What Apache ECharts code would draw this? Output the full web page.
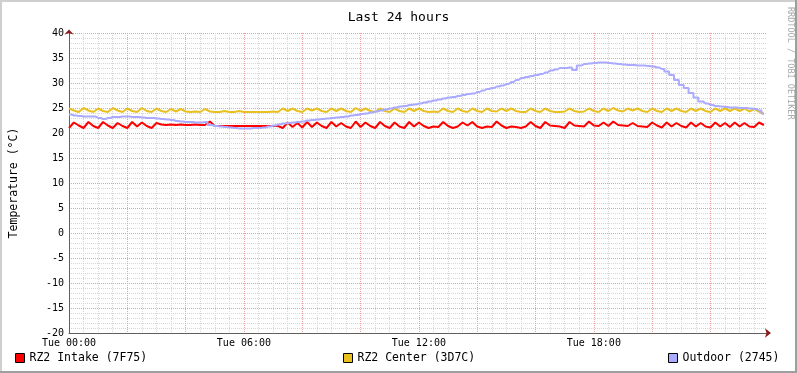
<!DOCTYPE html>
<html><head><meta charset="utf-8">
<script src="https://cdn.jsdelivr.net/npm/echarts@6/dist/echarts.min.js"></script>
<style>html,body{margin:0;padding:0;background:#fff}#c{width:797px;height:373px}</style>
</head><body><div id="c"></div>
<script>
const titleText = 'Last 24 hours';
const yAxisTitle = 'Temperature (°C)';
const watermark = 'RRDTOOL / TOBI OETIKER';
const seriesNames = ['RZ2 Intake (7F75)', 'RZ2 Center (3D7C)', 'Outdoor (2745)'];
const sampleStepHours = 1 / 6; // one reading every 10 minutes, from Tue 00:00
const xTickHours = [0, 6, 12, 18];
const xTickLabels = ['Tue 00:00', 'Tue 06:00', 'Tue 12:00', 'Tue 18:00'];
const yTickValues = [-20, -15, -10, -5, 0, 5, 10, 15, 20, 25, 30, 35, 40];

const intake = [
21.0,22.1,21.5,21.0,22.2,21.4,21.0,22.2,21.5,21.0,
22.0,21.4,21.0,22.2,21.3,22.1,21.4,21.0,22.0,21.7,
21.6,21.7,21.6,21.7,21.6,21.6,21.7,21.6,21.6,22.3,
21.4,21.4,21.4,21.4,21.4,21.4,21.4,21.4,21.4,21.4,
21.4,21.4,21.4,21.4,21.0,22.1,21.2,22.0,21.1,22.2,
21.2,22.1,21.4,21.0,22.2,21.3,22.0,21.3,21.0,22.3,
21.2,22.1,21.4,21.0,22.2,21.4,21.0,22.1,21.3,21.0,
22.2,21.3,22.1,21.4,21.0,21.3,21.2,22.2,21.4,21.0,
21.3,22.1,21.5,22.2,21.3,21.0,21.3,21.2,22.3,21.5,
21.0,21.3,21.2,21.0,21.3,22.2,21.4,21.0,22.2,21.5,
21.4,21.3,21.0,22.2,21.5,21.4,21.3,22.3,21.5,21.4,
22.1,21.4,22.3,21.6,21.5,21.4,22.0,21.4,21.3,21.2,
22.1,21.5,21.1,22.1,21.3,22.0,21.4,21.1,22.1,21.3,
22.0,21.3,21.1,22.1,21.3,22.0,21.2,22.1,21.3,22.0,
21.3,21.2,22.1,21.6];

const center = [
24.9,24.5,24.2,25.0,24.5,24.2,24.9,24.4,24.2,25.0,
24.5,24.2,24.9,24.4,24.2,25.0,24.4,24.2,24.9,24.4,
24.2,24.8,24.3,24.8,24.3,24.2,24.3,24.2,24.8,24.3,
24.2,24.2,24.4,24.2,24.2,24.4,24.2,24.2,24.2,24.2,
24.2,24.2,24.3,24.2,24.9,24.4,24.9,24.4,24.2,24.9,
24.5,24.9,24.4,24.2,24.9,24.4,24.9,24.4,24.2,25.0,
24.4,24.9,24.4,24.2,24.9,24.4,24.2,24.9,24.4,24.2,
24.9,24.4,24.9,24.4,24.2,24.3,24.2,24.9,24.4,24.2,
24.9,24.4,24.2,24.9,24.4,24.2,24.9,24.4,24.3,24.9,
24.4,24.9,24.4,24.2,24.2,24.9,24.4,24.2,24.9,24.4,
24.2,24.2,24.3,24.9,24.4,24.2,24.3,24.9,24.4,24.2,
24.9,24.4,25.0,24.5,24.3,24.9,24.5,24.9,24.4,24.2,
24.9,24.4,24.2,24.9,24.4,24.9,24.4,24.2,24.9,24.4,
24.9,24.4,24.2,24.9,24.4,24.9,24.4,24.9,24.4,24.9,
24.3,24.8,24.3,23.8];

const outdoor = [
23.7,23.5,23.4,23.3,23.3,23.3,23.0,22.8,23.0,23.2,
23.2,23.3,23.3,23.2,23.2,23.1,23.0,23.0,22.9,22.8,
22.7,22.6,22.4,22.3,22.2,22.2,22.1,22.1,22.2,21.6,
21.4,21.3,21.2,21.1,21.0,20.9,20.9,20.9,21.0,21.0,
21.1,21.3,21.5,21.7,21.9,22.0,22.1,22.2,22.3,22.5,
22.6,22.7,22.8,22.9,23.0,23.1,23.2,23.3,23.5,23.6,
23.8,23.9,24.1,24.3,24.5,24.7,24.9,25.1,25.3,25.4,
25.6,25.7,25.9,26.1,26.3,26.5,26.7,26.9,27.1,27.2,
27.4,27.6,27.8,27.9,28.2,28.5,28.8,29.0,29.3,29.5,
29.8,30.2,30.6,31.0,31.2,31.4,31.6,31.8,32.1,32.5,
32.7,33.0,33.0,33.1,32.6,33.5,33.8,33.9,34.0,34.1,
34.1,34.0,33.9,33.8,33.7,33.6,33.6,33.5,33.5,33.4,
33.3,33.1,32.8,32.3,31.6,30.6,29.6,29.0,28.0,27.1,
26.3,25.9,25.6,25.4,25.3,25.2,25.1,25.1,25.0,25.0,
24.9,24.8,24.5,23.9];

const colors = ['#ff0000', '#e8c020', '#aaaaff'];
const stepModes = [false, false, 'middle'];
const font = 'DejaVu Sans Mono';
const xMax = 23.94;

const toPairs = arr => arr.map((v, i) => [i * sampleStepHours, v]);
const chart = echarts.init(document.getElementById('c'), null, {renderer: 'canvas'});

const majorGrid = {color: '#e9a0a0', type: [1, 1], width: 1};
const minorGrid = {color: '#d6d6d6', type: [1, 1], width: 1};
const legendCommon = {
  icon: 'rect', itemWidth: 9, itemHeight: 9, padding: 0, itemGap: 0,
  selectedMode: false, top: 352,
  itemStyle: {borderColor: '#000', borderWidth: 1},
  textStyle: {fontFamily: font, fontSize: 11.5, color: '#000', lineHeight: 12}
};

chart.setOption({
  animation: false,
  backgroundColor: '#ffffff',
  title: {text: titleText, left: 'center', top: 6,
    textStyle: {fontFamily: font, fontSize: 13, fontWeight: 'normal', color: '#000'}},
  grid: {left: 67, right: 30, top: 33, bottom: 40},
  legend: [
    Object.assign({data: [seriesNames[0]], left: 15}, legendCommon),
    Object.assign({data: [seriesNames[1]], left: 343}, legendCommon),
    Object.assign({data: [seriesNames[2]], left: 668}, legendCommon)
  ],
  xAxis: [
    {type: 'value', min: 0, max: xMax, interval: 2, position: 'bottom',
     axisLine: {show: true, onZero: false, lineStyle: {color: '#606060', width: 1}},
     axisTick: {show: false},
     axisLabel: {fontFamily: font, fontSize: 10, color: '#000', margin: 5, showMaxLabel: false,
       formatter: v => { const k = xTickHours.indexOf(Math.round(v)); return (k >= 0 && Math.abs(v - Math.round(v)) < 1e-6) ? xTickLabels[k] : ''; }},
     splitLine: {show: true, showMinLine: false, showMaxLine: false, lineStyle: majorGrid},
     minorTick: {show: false, splitNumber: 4},
     minorSplitLine: {show: true, lineStyle: minorGrid}},
    {type: 'value', min: 0, max: xMax, position: 'bottom',
     axisLine: {show: true, onZero: false, symbol: ['none', 'arrow'], symbolSize: [7, 6], symbolOffset: [0, 4],
       lineStyle: {color: '#8b1a1a', width: 0}},
     axisTick: {show: false}, axisLabel: {show: false}, splitLine: {show: false}}
  ],
  yAxis: [
    {type: 'value', min: yTickValues[0], max: yTickValues[yTickValues.length - 1], interval: 5, position: 'left',
     name: yAxisTitle, nameLocation: 'middle', nameGap: 49, nameRotate: 90,
     nameTextStyle: {fontFamily: font, fontSize: 11.5, color: '#000'},
     axisLine: {show: true, onZero: false, lineStyle: {color: '#606060', width: 1}},
     axisTick: {show: false},
     axisLabel: {fontFamily: font, fontSize: 10, color: '#000', margin: 5},
     splitLine: {show: true, showMinLine: false, lineStyle: majorGrid},
     minorTick: {show: false, splitNumber: 5},
     minorSplitLine: {show: true, lineStyle: minorGrid}},
    {type: 'value', min: yTickValues[0], max: yTickValues[yTickValues.length - 1], position: 'left',
     axisLine: {show: true, onZero: false, symbol: ['none', 'arrow'], symbolSize: [7, 5], symbolOffset: [0, 3.5],
       lineStyle: {color: '#8b1a1a', width: 0}},
     axisTick: {show: false}, axisLabel: {show: false}, splitLine: {show: false}}
  ],
  series: [intake, center, outdoor].map((arr, k) => ({
    name: seriesNames[k], type: 'line', data: toPairs(arr),
    xAxisIndex: 0, yAxisIndex: 0, step: stepModes[k],
    showSymbol: false, symbol: 'none',
    lineStyle: {width: 2, color: colors[k]},
    itemStyle: {color: colors[k]},
    emphasis: {disabled: true}
  })),
  graphic: [
    {type: 'rect', silent: true, shape: {x: 0, y: 0, width: 797, height: 2}, style: {fill: '#cfcfcf'}},
    {type: 'rect', silent: true, shape: {x: 0, y: 0, width: 2, height: 373}, style: {fill: '#cfcfcf'}},
    {type: 'rect', silent: true, shape: {x: 0, y: 371, width: 797, height: 2}, style: {fill: '#9e9e9e'}},
    {type: 'rect', silent: true, shape: {x: 795, y: 0, width: 2, height: 373}, style: {fill: '#9e9e9e'}},
    {type: 'text', silent: true, x: 790, y: 7, rotation: -Math.PI / 2,
     style: {text: watermark, fontFamily: font, fontSize: 8.5, fill: '#a8a8a8', align: 'left', verticalAlign: 'middle'}}
  ]
});
</script>
</body></html>
